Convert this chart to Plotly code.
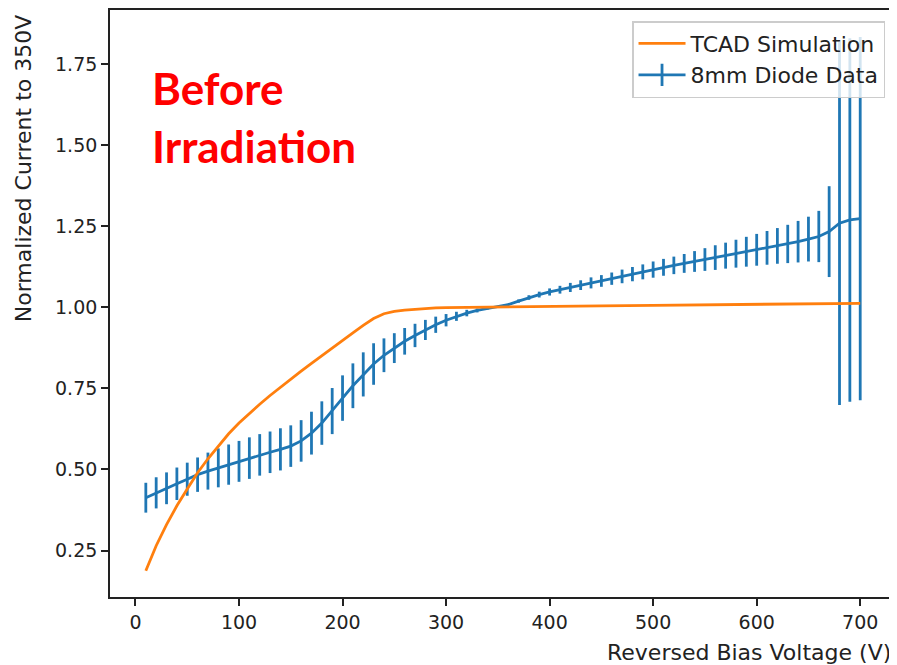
import plotly.graph_objects as go

# ---- data ----
diode_v = list(range(10, 701, 10))
diode_i = [0.413, 0.428, 0.442, 0.456, 0.470, 0.484, 0.495, 0.505, 0.515, 0.525,
           0.535, 0.545, 0.553, 0.562, 0.572, 0.588, 0.612, 0.643, 0.680, 0.720,
           0.758, 0.793, 0.825, 0.852, 0.874, 0.895, 0.913, 0.930, 0.946, 0.960,
           0.972, 0.982, 0.990, 0.996, 1.000, 1.008, 1.019, 1.030, 1.039, 1.047,
           1.054, 1.061, 1.068, 1.075, 1.081, 1.088, 1.095, 1.102, 1.109, 1.116,
           1.123, 1.129, 1.135, 1.141, 1.147, 1.153, 1.159, 1.165, 1.171, 1.177,
           1.183, 1.189, 1.195, 1.202, 1.210, 1.218, 1.233, 1.259, 1.269, 1.273]
diode_err = [0.046, 0.048, 0.049, 0.050, 0.051, 0.053, 0.057, 0.060, 0.062, 0.063,
             0.064, 0.064, 0.064, 0.065, 0.064, 0.064, 0.066, 0.067, 0.071, 0.070,
             0.069, 0.068, 0.064, 0.052, 0.046, 0.041, 0.036, 0.031, 0.025, 0.019,
             0.014, 0.010, 0.006, 0.003, 0.000, 0.003, 0.005, 0.007, 0.009, 0.011,
             0.012, 0.014, 0.015, 0.017, 0.018, 0.019, 0.021, 0.022, 0.023, 0.025,
             0.026, 0.027, 0.029, 0.032, 0.035, 0.038, 0.040, 0.043, 0.046, 0.049,
             0.052, 0.055, 0.059, 0.064, 0.069, 0.079, 0.140, 0.560, 0.560, 0.560]

tcad_v = [10, 20, 30, 40, 50, 60, 70, 80, 90, 100, 110, 120, 130, 140, 150, 160,
          170, 180, 190, 200, 210, 220, 230, 240, 250, 260, 270, 280, 290, 300,
          350, 400, 450, 500, 550, 600, 650, 700]
tcad_i = [0.188, 0.265, 0.330, 0.388, 0.440, 0.490, 0.533, 0.573, 0.610, 0.643,
          0.673, 0.701, 0.728, 0.754, 0.779, 0.803, 0.827, 0.851, 0.875, 0.898,
          0.921, 0.944, 0.965, 0.980, 0.987, 0.991, 0.994, 0.996, 0.998, 0.999,
          1.000, 1.003, 1.004, 1.006, 1.007, 1.009, 1.010, 1.012]

x_ticks = [0, 100, 200, 300, 400, 500, 600, 700]
y_ticks = [0.25, 0.50, 0.75, 1.00, 1.25, 1.50, 1.75]

BLUE = "#1f77b4"
ORANGE = "#ff7f0e"
FONT = "DejaVu Sans"

# page offset of the plot div (browser body margin)
OFF = 8
W, H = 897 - OFF, 665 - OFF
# plot area in window pixels
PL, PR, PT, PB = 110, 897, 10, 597


def px(x):
    return (x - PL) / (PR - PL)


def py(y):
    return (PB - y) / (PB - PT)


fig = go.Figure()

fig.add_trace(go.Scatter(
    x=diode_v, y=diode_i, mode="lines",
    line=dict(color=BLUE, width=2.8),
    error_y=dict(type="data", array=diode_err, visible=True,
                 color=BLUE, thickness=2.8, width=0),
    showlegend=False, name="8mm Diode Data"))

fig.add_trace(go.Scatter(
    x=tcad_v, y=tcad_i, mode="lines",
    line=dict(color=ORANGE, width=2.8),
    name="TCAD Simulation", legendrank=1))

# legend-only entry for the error-bar series
fig.add_trace(go.Scatter(
    x=[None], y=[None], mode="lines+markers",
    line=dict(color=BLUE, width=2.8),
    marker=dict(symbol="line-ns-open", size=16, color=BLUE,
                line=dict(color=BLUE, width=2.8)),
    name="8mm Diode Data", legendrank=2))

axis_common = dict(
    showgrid=False, zeroline=False, showline=True, mirror=True,
    linecolor="#222222", linewidth=1.7,
    ticks="outside", ticklen=7, tickwidth=1.6, tickcolor="#222222",
    tickfont=dict(family=FONT, size=19, color="#222222"),
)

fig.update_xaxes(range=[-24.6, 733.6], tickvals=x_ticks,
                 ticktext=[str(v) for v in x_ticks], **axis_common)
fig.update_yaxes(range=[0.107, 1.916], tickvals=y_ticks,
                 ticktext=[f"{v:.2f}" for v in y_ticks], **axis_common)

fig.update_layout(
    width=W, height=H, autosize=False,
    margin=dict(l=PL - OFF, r=W - (PR - OFF), t=PT - OFF, b=H - (PB - OFF), pad=0),
    paper_bgcolor="white", plot_bgcolor="white",
    font=dict(family=FONT, color="#222222"),
    legend=dict(x=px(887), y=py(21), xanchor="right", yanchor="top",
                bgcolor="rgba(255,255,255,0.8)", bordercolor="#cccccc",
                borderwidth=1.5, font=dict(family=FONT, size=22, color="#222222"),
                itemwidth=47, traceorder="normal"),
    annotations=[
        dict(text="Reversed Bias Voltage (V)", xref="paper", yref="paper",
             x=px(895), y=py(652), xanchor="right", yanchor="middle",
             showarrow=False, font=dict(family=FONT, size=22, color="#222222")),
        dict(text="Normalized Current to 350V", xref="paper", yref="paper",
             x=px(23), y=py(12), xanchor="center", yanchor="top", textangle=-90,
             showarrow=False, font=dict(family=FONT, size=22, color="#222222")),
        dict(text="<b>Before</b>", xref="paper", yref="paper",
             x=px(150), y=py(88), xanchor="left", yanchor="middle",
             showarrow=False, font=dict(family="Lato", size=44, color="#ff0000")),
        dict(text="<b>Irradiation</b>", xref="paper", yref="paper",
             x=px(150), y=py(146), xanchor="left", yanchor="middle",
             showarrow=False, font=dict(family="Lato", size=44, color="#ff0000")),
    ],
)

fig.write_html("out.html")
